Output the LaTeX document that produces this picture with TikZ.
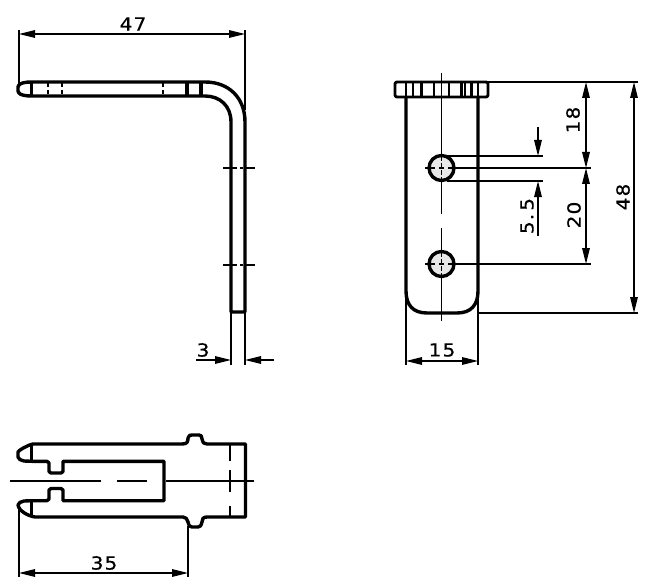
\documentclass[tikz,border=0pt]{standalone}
\usepackage{fontspec}
\usetikzlibrary{arrows.meta}
\newfontfamily\dimfont[FakeBold=0.4,FakeStretch=1.12,LetterSpace=6]{DejaVu Sans}
\tikzset{
 x=1pt,y=-1pt,
 thickline/.style={line width=3.4pt,line join=round,line cap=round},
 barline/.style={line width=2.8pt},
 thinline/.style={line width=1.7pt},
 dimline/.style={line width=1.6pt},
 arr/.style={-{Triangle[length=16pt,width=7.5pt]}},
 arrboth/.style={{Triangle[length=16pt,width=7.5pt]}-{Triangle[length=16pt,width=7.5pt]}},
 centre/.style={line width=1.6pt},
 dimtext/.style={font=\dimfont\fontsize{18}{18}\selectfont,inner sep=0pt},
 hole/.style={line width=3.4pt,fill=black!9},
}
\begin{document}
\begin{tikzpicture}
\path[use as bounding box,fill=white] (0,0) rectangle (650,588);

% ---- side view ----
\draw[thickline] (31,82) -- (205,82) .. controls (229,82) and (245,98) .. (245,122) -- (245,312) -- (231,312) -- (231,122) .. controls (231,106) and (220,96) .. (205,96) -- (31,96)
  .. controls (26,96) and (20,95) .. (19,93) -- (18,91) -- (18,87) -- (19,85) .. controls (20,83) and (26,82) .. (31,82) -- cycle;
\foreach \x in {31.5,187,201}{\draw[thickline,line cap=butt] (\x,82) -- (\x,96);}
\foreach \x in {48,62,163}{\draw[thinline,dash pattern=on 4pt off 3pt] (\x,83) -- (\x,96);}
\foreach \y in {168,265}{
 \draw[centre] (223,\y) -- (237,\y) (240,\y) -- (243,\y) (246,\y) -- (255,\y);
}
\draw[dimline] (19,30) -- (19,84);
\draw[dimline] (245,30) -- (245,110);
\draw[dimline,arrboth] (19,34) -- (245,34);
\node[dimtext] (t47) at (133,24) {47};
\draw[dimline] (231,313) -- (231,365);
\draw[dimline] (245,313) -- (245,365);
\draw[dimline,arr] (196,360) -- (231,360);
\draw[dimline,arr] (274,360) -- (245,360);
\node[dimtext] (t3) at (203,350) {3};

% ---- front view ----
\draw[thickline] (406,97) -- (406,291) .. controls (406,305) and (413,313) .. (427,313) -- (457,313) .. controls (471,313) and (478,305) .. (478,291) -- (478,97);
\draw[thickline,line width=2.9pt,rounded corners=2pt] (395,82) rectangle (488,97);
\foreach \x in {406,413,421.5,434,449,461.5,465,471.5,478}{\draw[barline] (\x,82) -- (\x,97);}
\draw[dimline] (441.5,73) -- (441.5,214);
\draw[dimline] (441.5,228) -- (441.5,321);
\draw[hole] (441.5,168) circle (12.5);
\draw[hole] (441.5,264) circle (12.5);
\foreach \y in {168,264}{
 \draw[centre] (425,\y) -- (435,\y) (439,\y) -- (444,\y) (448,\y) -- (458,\y);
 \draw[centre,dash pattern=on 5pt off 2pt] (441.5,\y-12) -- (441.5,\y+12);
}
\draw[dimline] (488,82) -- (638,82);
\draw[dimline] (447,156) -- (543,156);
\draw[dimline] (447,181) -- (543,181);
\draw[dimline] (455,168) -- (591,168);
\draw[dimline] (455,264) -- (591,264);
\draw[dimline] (478,313) -- (638,313);
\draw[dimline,arrboth] (586,82) -- (586,168);
\draw[dimline,arrboth] (586,168) -- (586,264);
\draw[dimline,arrboth] (634,82) -- (634,313);
\draw[dimline,arr] (538,127) -- (538,156);
\draw[dimline,arr] (538,236) -- (538,181);
\draw[dimline] (406,295) -- (406,365);
\draw[dimline] (478,295) -- (478,365);
\draw[dimline,arrboth] (406,361) -- (478,361);
\node[dimtext,rotate=90] (t18) at (573,120) {18};
\node[dimtext,rotate=90] (t20) at (574,215) {20};
\node[dimtext,rotate=90] (t48) at (623,197) {48};
\node[dimtext,rotate=90] (t55) at (527,216) {5.\,5};
\node[dimtext] (t15) at (442,350) {15};

% ---- plan view ----
\draw[thickline] (33,444) -- (182,444) .. controls (187,444) and (188,442) .. (188,438) .. controls (189,435) and (190,435) .. (192,435) -- (199,435) .. controls (201,435) and (202,436) .. (202,439) .. controls (203,443) and (204,444) .. (207,444) -- (245.5,444) -- (245.5,517) -- (207,517) .. controls (203,517) and (202,519) .. (202,522) .. controls (201,526) and (200,527) .. (198,527) -- (192,527) .. controls (190,527) and (189,526) .. (188,522) .. controls (187,519) and (186,517) .. (183,517)
 -- (35,517) .. controls (28,516) and (19,511) .. (18,505) .. controls (18,503) and (21,501.5) .. (24,501) -- (32,500.7) -- (47,500.7) -- (49,499) -- (49,490) -- (51,488.5) -- (61,488.5) -- (63,490) -- (63,500.7) -- (164,500.7) -- (164,461.3) -- (63,461.3) -- (63,471.5) -- (61,473) -- (51,473) -- (49,471.5) -- (49,463) -- (47,461.3) -- (32,461.3) -- (24,461) .. controls (21,460.5) and (18,459) .. (18,457) -- (18,452) .. controls (19,450) and (28,445) .. (33,444) -- cycle;
\draw[barline] (31.7,446) -- (31.7,461);
\draw[barline] (31.7,501) -- (31.7,516);
\draw[centre] (10,481) -- (101,481) (117,481) -- (147,481) (166,481) -- (254,481);
\draw[thinline,line width=2pt] (230,444) -- (230,461) (230,470) -- (230,492) (230,506) -- (230,517);
\draw[dimline] (19,506) -- (19,577);
\draw[dimline] (188,526) -- (188,577);
\draw[dimline,arrboth] (19,573) -- (188,573);
\node[dimtext] (t35) at (104,563) {35};
\end{tikzpicture}
\end{document}
